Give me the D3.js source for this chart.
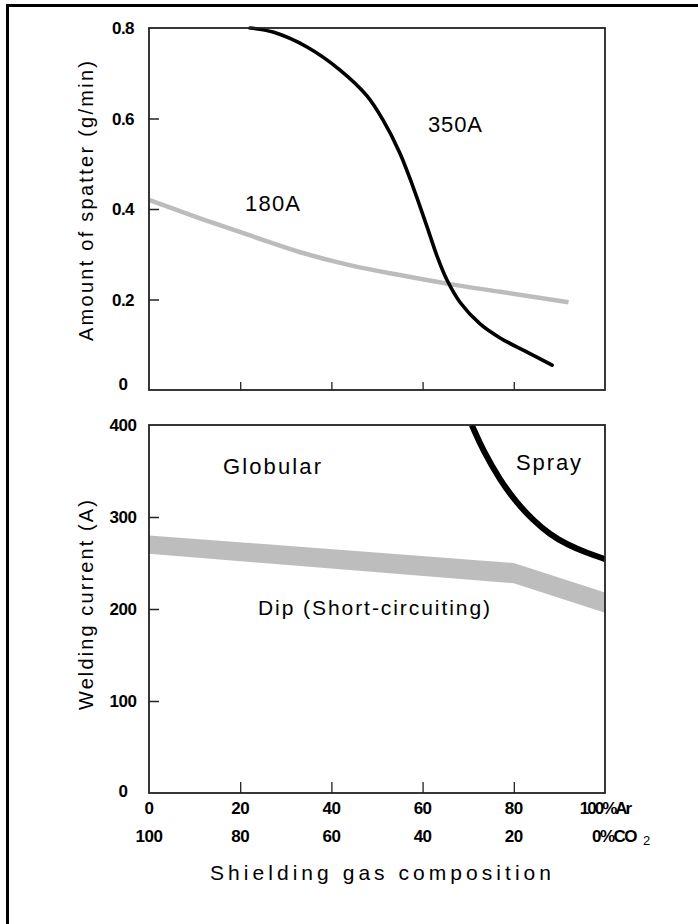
<!DOCTYPE html>
<html>
<head>
<meta charset="utf-8">
<script src="https://cdn.jsdelivr.net/npm/d3@7/dist/d3.min.js"></script>
<style>
  html, body { margin: 0; padding: 0; background: #fff; }
  svg { display: block; }
</style>
</head>
<body>
<svg id="chart" width="698" height="924"></svg>
<script>
// ---------------- data ----------------
const xTicks = [0, 20, 40, 60, 80, 100];
const arLabels = ["0", "20", "40", "60", "80", "100%Ar"];
const co2Labels = ["100", "80", "60", "40", "20", "0%CO"];
const spatterTicks = [0, 0.2, 0.4, 0.6, 0.8];
const spatterTickLabels = ["0", "0.2", "0.4", "0.6", "0.8"];
const currentTicks = [0, 100, 200, 300, 400];

// 350A spatter curve (Ar %, g/min)
const s350x = [22.15, 27.2, 34.65, 41.9, 47.8, 51.3, 55.0, 57.9, 61.0, 63.2, 65.35, 68.2, 72.6, 77.0, 82.5, 88.4];
const s350y = [0.800, 0.791, 0.758, 0.707, 0.650, 0.597, 0.524, 0.449, 0.360, 0.295, 0.243, 0.194, 0.146, 0.115, 0.086, 0.055];
// 180A spatter curve
const s180x = [0, 11, 22, 33, 44, 55, 66, 77, 92];
const s180y = [0.42, 0.38, 0.342, 0.305, 0.276, 0.254, 0.234, 0.217, 0.194];

// Spray transition boundary (Ar %, A)
const sprayX = [70.8, 73.2, 77, 80.7, 84.2, 87.9, 91.7, 96, 100];
const sprayY = [400, 372.8, 340, 315, 296.7, 281, 270, 261, 254.3];
// Dip / globular transition band
const bandX = [0, 80, 100];
const bandUpper = [280, 250, 218];
const bandLower = [260, 228, 196];

// ---------------- layout ----------------
const svg = d3.select("#chart");
const left = 149, right = 605;
const topY0 = 28, topY1 = 390;
const botY0 = 425, botY1 = 793;
const tickFont = "'Liberation Sans', Arial, sans-serif";
const textFont = "'Liberation Sans', Arial, sans-serif";

const x = d3.scaleLinear().domain([0, 100]).range([left, right]);
const ySp = d3.scaleLinear().domain([0, 0.8]).range([topY1, topY0]);
const yCur = d3.scaleLinear().domain([0, 400]).range([botY1, botY0]);

// outer border (left & top only visible)
svg.append("path")
  .attr("d", `M7.5,924 L7.5,5.5 L698,5.5`)
  .attr("fill", "none").attr("stroke", "#000").attr("stroke-width", 3);

// ---------- top panel ----------
const gTop = svg.append("g");
svg.append("clipPath").attr("id", "clipTop")
  .append("rect").attr("x", left).attr("y", topY0 - 2).attr("width", right - left).attr("height", topY1 - topY0 + 2);

gTop.append("path")
  .datum(s180x.map((v, i) => [v, s180y[i]]))
  .attr("d", d3.line().x(d => x(d[0])).y(d => ySp(d[1])).curve(d3.curveMonotoneX))
  .attr("fill", "none").attr("stroke", "#bcbcbc").attr("stroke-width", 4.5);

gTop.append("path")
  .datum(s350x.map((v, i) => [v, s350y[i]]))
  .attr("d", d3.line().x(d => x(d[0])).y(d => ySp(d[1])).curve(d3.curveCatmullRom))
  .attr("fill", "none").attr("stroke", "#000").attr("stroke-width", 3.6)
  .attr("stroke-linecap", "round")
  .attr("clip-path", "url(#clipTop)");

// inward ticks
const yAxTop = d3.axisRight(ySp).tickValues([0.2, 0.4, 0.6]).tickSize(10).tickFormat("");
gTop.append("g").attr("transform", `translate(${left},0)`).call(yAxTop)
  .call(g => g.select(".domain").remove())
  .call(g => g.selectAll("line").attr("stroke", "#222").attr("stroke-width", 1.5));
const xAxTop = d3.axisTop(x).tickValues([20, 40, 60, 80]).tickSize(8).tickFormat("");
gTop.append("g").attr("transform", `translate(0,${topY1})`).call(xAxTop)
  .call(g => g.select(".domain").remove())
  .call(g => g.selectAll("line").attr("stroke", "#222").attr("stroke-width", 1.3));

gTop.append("rect").attr("x", left).attr("y", topY0).attr("width", right - left).attr("height", topY1 - topY0)
  .attr("fill", "none").attr("stroke", "#222").attr("stroke-width", 1.8);

gTop.selectAll("text.ytl").data(spatterTicks).join("text")
  .attr("x", 123).attr("y", d => ySp(d) + (d === 0 ? 0 : 6))
  .attr("text-anchor", "middle")
  .attr("font-family", tickFont).attr("font-weight", "bold").attr("font-size", 17)
  .attr("letter-spacing", -0.5)
  .text((d, i) => spatterTickLabels[i]);

gTop.append("text").attr("x", 428).attr("y", 132)
  .attr("font-family", textFont).attr("font-size", 22).attr("textLength", 54).attr("lengthAdjust", "spacing")
  .text("350A");
gTop.append("text").attr("x", 245).attr("y", 211)
  .attr("font-family", textFont).attr("font-size", 22).attr("textLength", 55).attr("lengthAdjust", "spacing")
  .text("180A");

svg.append("text")
  .attr("transform", `translate(93,201) rotate(-90)`)
  .attr("text-anchor", "middle")
  .attr("font-family", textFont).attr("font-size", 20)
  .attr("textLength", 280).attr("lengthAdjust", "spacing")
  .text("Amount of spatter (g/min)");

// ---------- bottom panel ----------
const gBot = svg.append("g");

const bandArea = d3.area()
  .x((d, i) => x(bandX[i]))
  .y0((d, i) => yCur(bandLower[i]))
  .y1((d, i) => yCur(bandUpper[i]))
  .curve(d3.curveLinear);
gBot.append("path").datum(bandX).attr("d", bandArea).attr("fill", "#bdbdbd");

svg.append("clipPath").attr("id", "clipBot")
  .append("rect").attr("x", left).attr("y", botY0).attr("width", right - left).attr("height", botY1 - botY0);
gBot.append("path")
  .datum(sprayX.map((v, i) => [v, sprayY[i]]))
  .attr("d", d3.line().x(d => x(d[0])).y(d => yCur(d[1])).curve(d3.curveBasis))
  .attr("fill", "none").attr("stroke", "#000").attr("stroke-width", 6)
  .attr("clip-path", "url(#clipBot)");

const yAxBot = d3.axisRight(yCur).tickValues([100, 200, 300]).tickSize(10).tickFormat("");
gBot.append("g").attr("transform", `translate(${left},0)`).call(yAxBot)
  .call(g => g.select(".domain").remove())
  .call(g => g.selectAll("line").attr("stroke", "#222").attr("stroke-width", 1.5));
const xAxBot = d3.axisTop(x).tickValues([20, 40, 60, 80]).tickSize(11).tickFormat("");
gBot.append("g").attr("transform", `translate(0,${botY1})`).call(xAxBot)
  .call(g => g.select(".domain").remove())
  .call(g => g.selectAll("line").attr("stroke", "#222").attr("stroke-width", 1.3));

gBot.append("rect").attr("x", left).attr("y", botY0).attr("width", right - left).attr("height", botY1 - botY0)
  .attr("fill", "none").attr("stroke", "#222").attr("stroke-width", 1.8);

gBot.selectAll("text.ytl").data(currentTicks).join("text")
  .attr("x", 123).attr("y", d => yCur(d) + (d === 0 ? 4 : 6))
  .attr("text-anchor", "middle")
  .attr("font-family", tickFont).attr("font-weight", "bold").attr("font-size", 17)
  .attr("letter-spacing", -0.5)
  .text(d => d);

// x tick labels, two rows
gBot.selectAll("text.ar").data(xTicks).join("text")
  .attr("x", d => x(d)).attr("y", 814)
  .attr("text-anchor", "middle")
  .attr("font-family", tickFont).attr("font-weight", "bold").attr("font-size", 17)
  .attr("letter-spacing", (d, i) => i === 5 ? -2 : -0.5)
  .text((d, i) => arLabels[i]);

const co2 = gBot.selectAll("text.co").data(xTicks).join("text")
  .attr("x", (d, i) => i === 5 ? x(d) - 13 : x(d)).attr("y", 842)
  .attr("text-anchor", (d, i) => i === 5 ? "start" : "middle")
  .attr("font-family", tickFont).attr("font-weight", "bold").attr("font-size", 17)
  .attr("letter-spacing", (d, i) => i === 5 ? -1.5 : -0.5);
co2.append("tspan").text((d, i) => co2Labels[i]);
co2.filter((d, i) => i === 5).append("tspan")
  .attr("dx", 7).attr("dy", 3).attr("font-size", 13).attr("font-weight", "normal").text("2");

gBot.append("text").attr("x", 223).attr("y", 474)
  .attr("font-family", textFont).attr("font-size", 22).attr("textLength", 98).attr("lengthAdjust", "spacing")
  .text("Globular");
gBot.append("text").attr("x", 516).attr("y", 470)
  .attr("font-family", textFont).attr("font-size", 22).attr("textLength", 65).attr("lengthAdjust", "spacing")
  .text("Spray");
gBot.append("text").attr("x", 258).attr("y", 615)
  .attr("font-family", textFont).attr("font-size", 21).attr("textLength", 232).attr("lengthAdjust", "spacing")
  .text("Dip (Short-circuiting)");

svg.append("text")
  .attr("transform", `translate(93,605) rotate(-90)`)
  .attr("text-anchor", "middle")
  .attr("font-family", textFont).attr("font-size", 20)
  .attr("textLength", 210).attr("lengthAdjust", "spacing")
  .text("Welding current (A)");

svg.append("text").attr("x", 210).attr("y", 880)
  .attr("font-family", textFont).attr("font-size", 21).attr("textLength", 341).attr("lengthAdjust", "spacing")
  .text("Shielding gas composition");
</script>
</body>
</html>
